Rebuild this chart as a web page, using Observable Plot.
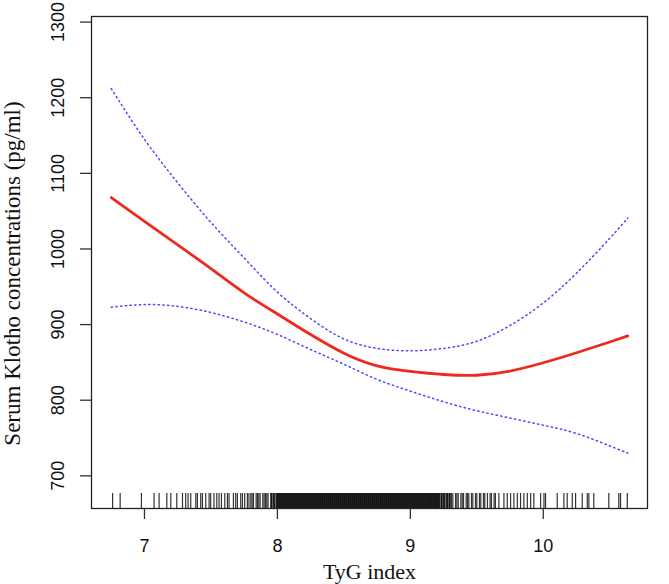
<!DOCTYPE html>
<html><head><meta charset="utf-8">
<script src="https://cdn.jsdelivr.net/npm/d3@7"></script>
<script src="https://cdn.jsdelivr.net/npm/@observablehq/plot@0.6"></script>
<style>html,body{margin:0;padding:0;background:#fff}</style>
</head><body><div id="chart"></div>
<script>
// TyG index grid for the fitted curve
const tygGrid = [6.75, 7.0, 7.25, 7.5, 7.75, 8.0, 8.25, 8.5, 8.75, 9.0, 9.25, 9.5, 9.75, 10.0, 10.25, 10.5, 10.636];
// Fitted serum Klotho (pg/ml)
const fitValues = [1068, 1036.5, 1005.4, 974, 942, 914, 886.8, 862.2, 845.5, 838.2, 834, 833, 838.5, 849.5, 862.8, 877, 885];
// 95% CI upper
const upperCI = [1212, 1145, 1087.5, 1035, 988, 943, 908, 881, 868.5, 865.3, 868.5, 878, 898.8, 928.6, 968, 1014, 1041];
// 95% CI lower
const lowerCI = [923, 926.5, 924, 916, 903.4, 887, 867, 847.5, 827.5, 812, 798, 786, 776.5, 767, 756, 739.5, 730];
// Rug: observed TyG index values
const rugTyG = [6.76, 6.817, 6.977, 7.072, 7.11, 7.168, 7.198, 7.243, 7.286, 7.31, 7.328, 7.348, 7.386, 7.398,
  7.423, 7.436, 7.461, 7.486, 7.498, 7.523, 7.544, 7.561, 7.579, 7.604, 7.624, 7.636, 7.669, 7.686, 7.699,
  7.724, 7.737, 7.754, 7.774, 7.786,
  7.80, 7.81, 7.82, 7.84, 7.85, 7.86, 7.87, 7.89, 7.90, 7.91, 7.92, 7.93, 7.95, 7.96, 7.97, 7.98, 7.99,
  8.00, 8.01, 8.02, 8.03, 8.04, 8.05, 8.06, 8.07, 8.08, 8.09, 8.10, 8.11, 8.12, 8.13, 8.14, 8.15, 8.16, 8.17, 8.18, 8.19,
  8.20, 8.21, 8.22, 8.23, 8.24, 8.25, 8.26, 8.27, 8.28, 8.29, 8.30, 8.31, 8.32, 8.33, 8.34, 8.35, 8.36, 8.37, 8.38, 8.39,
  8.40, 8.41, 8.42, 8.43, 8.44, 8.45, 8.46, 8.47, 8.48, 8.49, 8.50, 8.51, 8.52, 8.53, 8.54, 8.55, 8.56, 8.57, 8.58, 8.59,
  8.60, 8.61, 8.62, 8.63, 8.64, 8.65, 8.66, 8.67, 8.68, 8.69, 8.70, 8.71, 8.72, 8.73, 8.74, 8.75, 8.76, 8.77, 8.78, 8.79,
  8.80, 8.81, 8.82, 8.83, 8.84, 8.85, 8.86, 8.87, 8.88, 8.89, 8.90, 8.91, 8.92, 8.93, 8.94, 8.95, 8.96, 8.97, 8.98, 8.99,
  9.00, 9.01, 9.02, 9.03, 9.04, 9.05, 9.06, 9.07, 9.08, 9.09, 9.10, 9.11, 9.12, 9.13, 9.14, 9.15, 9.16, 9.17, 9.18, 9.19,
  9.20, 9.21, 9.22, 9.23, 9.24, 9.25, 9.26, 9.27, 9.28, 9.29, 9.30,
  9.31, 9.32, 9.34, 9.35, 9.36, 9.38, 9.39, 9.40, 9.42, 9.43, 9.44, 9.46, 9.47, 9.49, 9.50, 9.52, 9.53, 9.55, 9.56,
  9.58, 9.60, 9.61, 9.63, 9.64,
  9.666, 9.704, 9.729, 9.754, 9.779, 9.805, 9.829, 9.854, 9.880, 9.905, 9.929, 9.980, 10.005, 10.017, 10.105,
  10.155, 10.18, 10.218, 10.243, 10.293, 10.331, 10.343, 10.38, 10.493, 10.568, 10.581, 10.632,
  // additional observations in the densest part of the distribution
  7.955, 7.975, 7.995, 8.005, 8.015, 8.025, 8.035, 8.045, 8.055, 8.065, 8.075, 8.085, 8.095,
  8.105, 8.115, 8.125, 8.135, 8.145, 8.155, 8.165, 8.175, 8.185, 8.195,
  8.205, 8.215, 8.225, 8.235, 8.245, 8.255, 8.265, 8.275, 8.285, 8.295,
  8.305, 8.315, 8.325, 8.335, 8.345, 8.355, 8.365, 8.375, 8.385, 8.395,
  8.405, 8.415, 8.425, 8.435, 8.445, 8.455, 8.465, 8.475, 8.485, 8.495,
  8.505, 8.515, 8.525, 8.535, 8.545, 8.555, 8.565, 8.575, 8.585, 8.595,
  8.605, 8.615, 8.625, 8.635, 8.645, 8.655, 8.665, 8.675, 8.685, 8.695,
  8.705, 8.715, 8.725, 8.735, 8.745, 8.755, 8.765, 8.775, 8.785, 8.795,
  8.805, 8.815, 8.825, 8.835, 8.845, 8.855, 8.865, 8.875, 8.885, 8.895,
  8.905, 8.915, 8.925, 8.935, 8.945, 8.955, 8.965, 8.975, 8.985, 8.995,
  9.005, 9.015, 9.025, 9.035, 9.045, 9.055, 9.065, 9.075, 9.085, 9.095,
  9.105, 9.115, 9.125, 9.135, 9.145, 9.155, 9.165, 9.175, 9.185, 9.195,
  9.205, 9.215, 9.235, 9.255, 9.275, 9.295];
const xTicks = [7, 8, 9, 10];
const yTicks = [700, 800, 900, 1000, 1100, 1200, 1300];
const xTitle = "TyG index";
const yTitle = "Serum Klotho concentrations (pg/ml)";

const curve = tygGrid.map((x, i) => ({x, fit: fitValues[i], upper: upperCI[i], lower: lowerCI[i]}));

const sans = "'Liberation Sans', Arial, Helvetica, sans-serif";
const serif = "'Liberation Serif', 'Times New Roman', Times, serif";
const ciStyle = {curve: "natural", stroke: "#4848ff", strokeWidth: 1.5, strokeDasharray: "1.3,3.4"};

const chart = Plot.plot({
  width: 669,
  height: 584,
  marginLeft: 91,
  marginRight: 22,
  marginTop: 16,
  marginBottom: 76,
  x: {domain: [6.6015, 10.784]},
  y: {domain: [656.8, 1307.4]},
  style: {fontFamily: sans, fontSize: "18px", color: "#000", background: "#fff", overflow: "visible"},
  marks: [
    Plot.ruleX(rugTyG, {x: d => d, insetTop: 477, stroke: "#000", strokeOpacity: 0.8, strokeWidth: 1.2}),
    Plot.line(curve, {x: "x", y: "upper", ...ciStyle}),
    Plot.line(curve, {x: "x", y: "lower", ...ciStyle}),
    Plot.line(curve, {x: "x", y: "fit", curve: "natural", stroke: "#ee2a1e", strokeWidth: 2.8}),
    Plot.frame({stroke: "#222", strokeWidth: 1.3}),
    Plot.axisX({ticks: xTicks, tickSize: 11, tickFormat: () => "", label: null, stroke: "#333", strokeWidth: 1.3}),
    Plot.axisY({ticks: yTicks, tickSize: 11, tickFormat: () => "", label: null, stroke: "#333", strokeWidth: 1.3}),
    Plot.text(xTicks, {x: d => d, text: d => String(d), frameAnchor: "bottom", dy: 43, lineAnchor: "bottom", fontSize: 18, fill: "#111"}),
    Plot.text(yTicks, {y: d => d, text: d => String(d), frameAnchor: "left", dx: -28, rotate: -90, textAnchor: "middle", lineAnchor: "bottom", fontSize: 18, fill: "#111"}),
    Plot.text([xTitle], {text: d => d, frameAnchor: "bottom", dy: 70, lineAnchor: "bottom", fontFamily: serif, fontSize: 22, fill: "#111"}),
    Plot.text([yTitle], {text: d => d, frameAnchor: "left", dx: -72, dy: 11, rotate: -90, textAnchor: "middle", lineAnchor: "bottom", fontFamily: serif, fontSize: 23, fill: "#111"})
  ]
});
document.getElementById("chart").appendChild(chart);
</script>
</body></html>
